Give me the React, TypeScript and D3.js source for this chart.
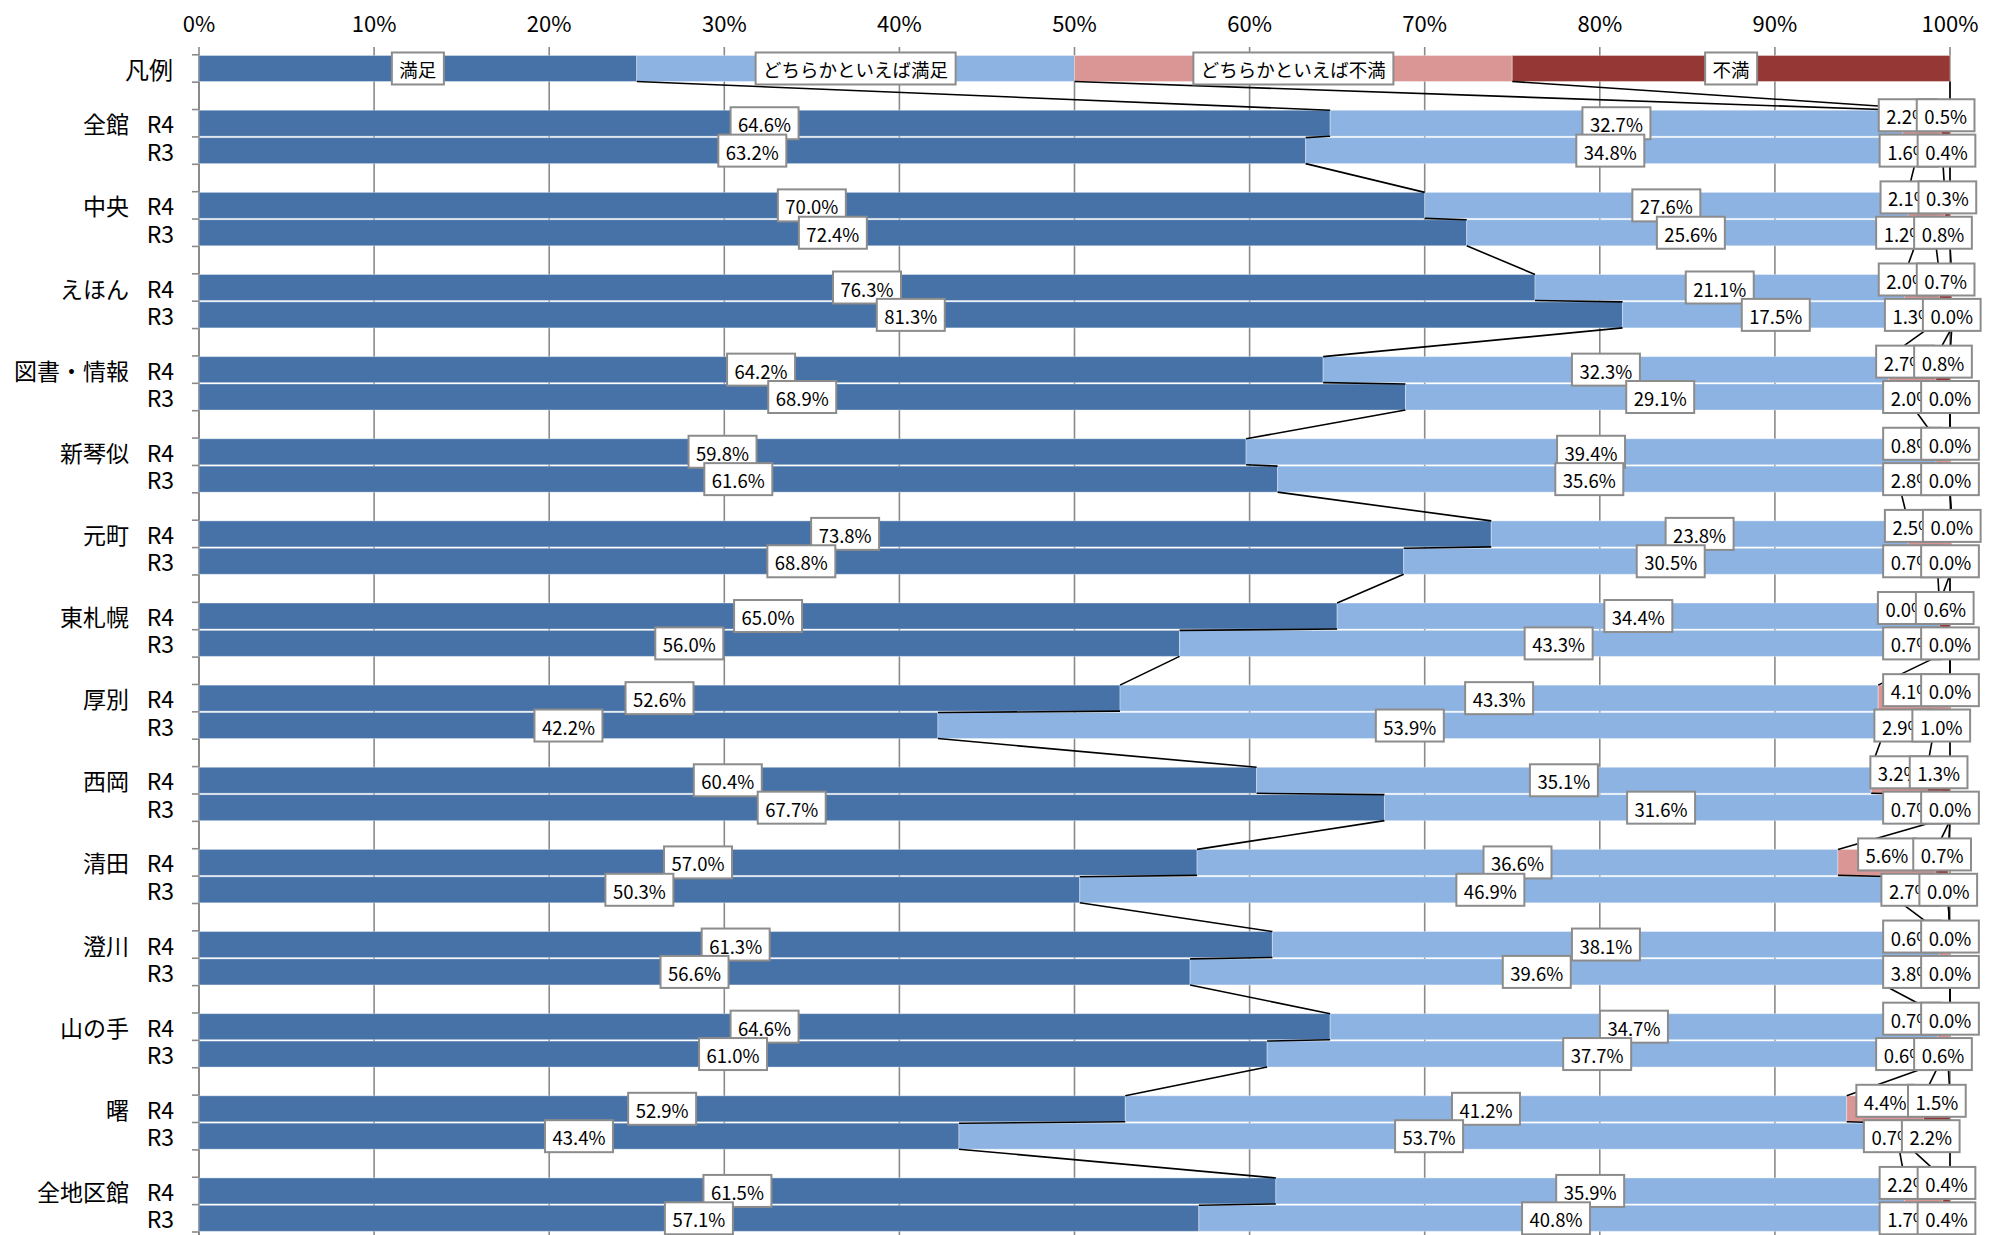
import React from 'react';
import * as d3 from 'd3';

const groups = ['全館', '中央', 'えほん', '図書・情報', '新琴似', '元町', '東札幌', '厚別', '西岡', '清田', '澄川', '山の手', '曙', '全地区館'];
const years = ['R4', 'R3'];
const seriesNames = ['満足', 'どちらかといえば満足', 'どちらかといえば不満', '不満'];
const legendLabel = '凡例';
const legendValues = [25, 25, 25, 25];
const xTicks = [0, 10, 20, 30, 40, 50, 60, 70, 80, 90, 100];

// order: group by group, R4 then R3
const manzoku = [64.6, 63.2, 70.0, 72.4, 76.3, 81.3, 64.2, 68.9, 59.8, 61.6, 73.8, 68.8, 65.0, 56.0, 52.6, 42.2, 60.4, 67.7, 57.0, 50.3, 61.3, 56.6, 64.6, 61.0, 52.9, 43.4, 61.5, 57.1];
const yaManzoku = [32.7, 34.8, 27.6, 25.6, 21.1, 17.5, 32.3, 29.1, 39.4, 35.6, 23.8, 30.5, 34.4, 43.3, 43.3, 53.9, 35.1, 31.6, 36.6, 46.9, 38.1, 39.6, 34.7, 37.7, 41.2, 53.7, 35.9, 40.8];
const yaFuman = [2.2, 1.6, 2.1, 1.2, 2.0, 1.3, 2.7, 2.0, 0.8, 2.8, 2.5, 0.7, 0.0, 0.7, 4.1, 2.9, 3.2, 0.7, 5.6, 2.7, 0.6, 3.8, 0.7, 0.6, 4.4, 0.7, 2.2, 1.7];
const fuman = [0.5, 0.4, 0.3, 0.8, 0.7, 0.0, 0.8, 0.0, 0.0, 0.0, 0.0, 0.0, 0.6, 0.0, 0.0, 1.0, 1.3, 0.0, 0.7, 0.0, 0.0, 0.0, 0.0, 0.6, 1.5, 2.2, 0.4, 0.4];

const colors = ['#4672A7', '#8DB3E2', '#D99694', '#953735'];
const FONT = "'Noto Sans CJK JP', 'Noto Sans', sans-serif";

const W = 2009;
const H = 1235;

let ctx: CanvasRenderingContext2D | null = null;
function measure(text: string, size: number) {
  if (!ctx) {
    const c = document.createElement('canvas');
    ctx = c.getContext('2d');
  }
  if (!ctx) return text.length * size * 0.6;
  ctx.font = `${size}px ${FONT}`;
  return ctx.measureText(text).width;
}

type Row = { key: string; vals: number[]; labels: string[]; isR4: boolean; legend: boolean };

export default function App() {
  const slots: string[] = ['legend', 'gap-0'];
  groups.forEach((g, i) => {
    years.forEach((yr) => slots.push(`${g}|${yr}`));
    if (i < groups.length - 1) slots.push(`gap-${i + 1}`);
  });

  const plotTop = 54.8;
  const plotBottom = 1232;
  const x = d3.scaleLinear().domain([0, 100]).range([199, 1950]);
  const y = d3.scaleBand<string>().domain(slots).range([plotTop, plotBottom]).paddingInner(0.05).paddingOuter(0.025);
  const bw = y.bandwidth();
  const step = (plotBottom - plotTop) / slots.length;

  const fmt = (v: number) => d3.format('.1f')(v) + '%';

  const rows: Row[] = [{ key: 'legend', vals: legendValues, labels: seriesNames, isR4: false, legend: true }];
  groups.forEach((g, gi) => {
    years.forEach((yr, yi) => {
      const idx = gi * 2 + yi;
      const vals = [manzoku[idx], yaManzoku[idx], yaFuman[idx], fuman[idx]];
      rows.push({ key: `${g}|${yr}`, vals, labels: vals.map(fmt), isR4: yr === 'R4', legend: false });
    });
  });

  const stacked = rows.map((r) => {
    let c = 0;
    return r.vals.map((v) => {
      const s = c;
      c += v;
      return [s, c];
    });
  });

  // series lines
  const seriesLines: { x1: number; y1: number; x2: number; y2: number }[] = [];
  for (let i = 1; i < rows.length; i++) {
    const yPrev = (y(rows[i - 1].key) as number) + bw;
    const yNext = y(rows[i].key) as number;
    for (let k = 0; k < 4; k++) {
      seriesLines.push({ x1: x(stacked[i - 1][k][1]), y1: yPrev, x2: x(stacked[i][k][1]), y2: yNext });
    }
  }

  const boundaries = d3.range(slots.length + 1).map((i) => plotTop + i * step);

  const labelSize = 18.5;
  const boxH = 32;

  // label layout
  const labelPos = rows.map((r, ri) => {
    const centers = stacked[ri].map(([a, b]) => x((a + b) / 2));
    if (!r.legend) {
      centers[2] = Math.min(centers[2], centers[3] - 38);
    }
    return centers.map((cx, k) => {
      const dy = !r.legend && k >= 2 && r.isR4 ? -8 : 0;
      return { cx, cy: (y(r.key) as number) + bw / 2 + dy };
    });
  });

  return (
    <div style={{ position: 'absolute', left: 0, top: 0, width: W, height: H, background: '#fff' }}>
      <svg width={W} height={H} style={{ display: 'block' }} fontFamily={FONT}>
        <rect x={0} y={0} width={W} height={H} fill="#fff" />
        {/* gridlines & top ticks */}
        {xTicks.map((t) => (
          <g key={`g${t}`}>
            <line x1={x(t)} x2={x(t)} y1={47} y2={plotBottom + 5} stroke="#8a8a8a" strokeWidth={1.6} />
            <text x={x(t)} y={22} textAnchor="middle" dominantBaseline="central" fontSize={22} fill="#000">
              {t}%
            </text>
          </g>
        ))}
        {/* left axis */}
        <line x1={x(0)} x2={x(0)} y1={plotTop} y2={plotBottom + 5} stroke="#8a8a8a" strokeWidth={2} />
        {boundaries.map((b, i) => (
          <line key={`b${i}`} x1={x(0) - 7} x2={x(0)} y1={b} y2={b} stroke="#8a8a8a" strokeWidth={1.6} />
        ))}
        {/* bars */}
        {rows.map((r, ri) => (
          <g key={r.key}>
            {stacked[ri].map(([a, b], k) => (
              <rect
                key={k}
                x={x(a)}
                y={y(r.key) as number}
                width={Math.max(0, x(b) - x(a))}
                height={bw}
                fill={colors[k]}
                stroke="rgba(255,255,255,0.35)"
                strokeWidth={1}
              />
            ))}
          </g>
        ))}
        {/* series lines */}
        {seriesLines.map((l, i) => (
          <line key={`s${i}`} x1={l.x1} y1={l.y1} x2={l.x2} y2={l.y2} stroke="#000" strokeWidth={1.6} />
        ))}
        {/* category labels */}
        <text x={173} y={(y('legend') as number) + bw / 2} textAnchor="end" dominantBaseline="central" fontSize={24} fill="#000">
          {legendLabel}
        </text>
        {groups.map((g) => (
          <g key={`c${g}`}>
            <text x={129} y={(y(`${g}|R4`) as number) + bw / 2} textAnchor="end" dominantBaseline="central" fontSize={23} fill="#000">
              {g}
            </text>
            {years.map((yr) => (
              <text key={yr} x={174} y={(y(`${g}|${yr}`) as number) + bw / 2} textAnchor="end" dominantBaseline="central" fontSize={23} fill="#000">
                {yr}
              </text>
            ))}
          </g>
        ))}
        {/* data labels, series by series */}
        {[0, 1, 2, 3].map((k) => (
          <g key={`lab${k}`}>
            {rows.map((r, ri) => {
              const { cx, cy } = labelPos[ri][k];
              const txt = r.labels[k];
              const w = measure(txt, labelSize) + 15;
              return (
                <g key={`l${k}-${ri}`}>
                  <rect x={cx - w / 2} y={cy - boxH / 2} width={w} height={boxH} fill="#fff" stroke="#8c8c8c" strokeWidth={2} />
                  <text x={cx} y={cy + 1} textAnchor="middle" dominantBaseline="central" fontSize={labelSize} fill="#000">
                    {txt}
                  </text>
                </g>
              );
            })}
          </g>
        ))}
      </svg>
    </div>
  );
}
